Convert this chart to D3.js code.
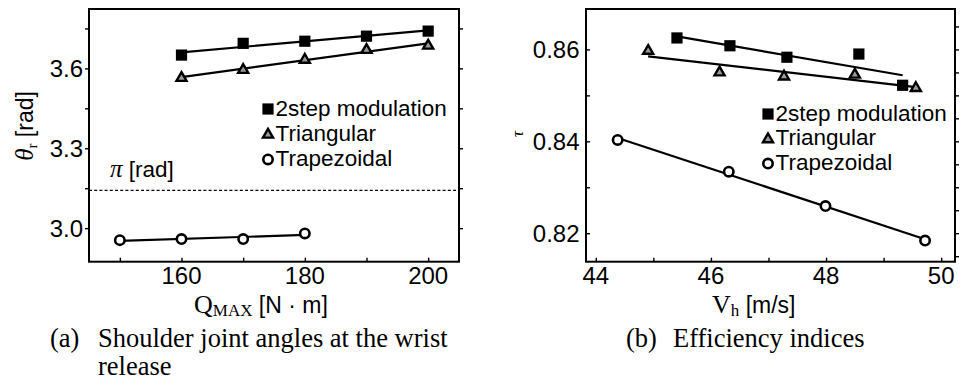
<!DOCTYPE html>
<html>
<head>
<meta charset="utf-8">
<script src="https://cdn.jsdelivr.net/npm/d3@7"></script>
<style>
  html, body { margin: 0; padding: 0; background: #fff; }
  svg { display: block; }
  .sans { font-family: "Liberation Sans", Arial, Helvetica, sans-serif; }
  .serif { font-family: "Liberation Serif", "Times New Roman", serif; }
</style>
</head>
<body>
<script>
// ---------- DATA ----------
// Panel (a): shoulder joint angle theta_r [rad] vs Q_MAX [N·m]
const qmax2step = [160, 170, 180, 190, 200];
const theta2step = [3.650, 3.694, 3.702, 3.721, 3.740];
const qmaxTri = [160, 170, 180, 190, 200];
const thetaTri = [3.566, 3.596, 3.634, 3.671, 3.687];
const qmaxTrap = [150, 160, 170, 180];
const thetaTrap = [2.955, 2.959, 2.959, 2.980];
const piValue = Math.PI;

// Panel (b): efficiency tau vs V_h [m/s]
const vh2step = [45.41, 46.33, 47.32, 48.57, 49.33];
const tau2step = [0.8625, 0.8608, 0.8583, 0.8590, 0.8522];
const vhTri = [44.91, 46.15, 47.27, 48.50, 49.56];
const tauTri = [0.8598, 0.8551, 0.8542, 0.8546, 0.8517];
const vhTrap = [44.38, 46.31, 47.99, 49.72];
const tauTrap = [0.8403, 0.8334, 0.8259, 0.8184];

// Tick values / labels
const aXTicks = [150, 160, 170, 180, 190, 200];
const aXLabels = [160, 180, 200];
const aYTicks = [3.0, 3.15, 3.3, 3.45, 3.6, 3.75];
const aYLabels = [3.0, 3.3, 3.6];
const bXTicks = [44, 45, 46, 47, 48, 49, 50];
const bXLabels = [44, 46, 48, 50];
const bYTicksL = [0.82, 0.83, 0.84, 0.85, 0.86];
const bYTicksR = [0.815, 0.82, 0.825, 0.83, 0.835, 0.84, 0.845, 0.85, 0.855, 0.86, 0.865];
const bYLabels = [0.82, 0.84, 0.86];

const legendNames = ["2step modulation", "Triangular", "Trapezoidal"];

// ---------- DRAW ----------
const W = 967, H = 385;
const svg = d3.select("body").append("svg").attr("width", W).attr("height", H);

const TRI_FILL = "#9a9a9a";

function fit(xs, ys) {
  const n = xs.length, mx = d3.mean(xs), my = d3.mean(ys);
  let sxy = 0, sxx = 0;
  for (let i = 0; i < n; i++) { sxy += (xs[i]-mx)*(ys[i]-my); sxx += (xs[i]-mx)**2; }
  const b = sxy / sxx, a = my - b*mx;
  const x0 = d3.min(xs), x1 = d3.max(xs);
  return [[x0, a + b*x0], [x1, a + b*x1]];
}

function drawMarker(g, type, cx, cy) {
  if (type === 0) {
    g.append("rect").attr("x", cx-5.6).attr("y", cy-5.6).attr("width", 11.2).attr("height", 11.2).attr("fill", "#000");
  } else if (type === 1) {
    g.append("path").attr("d", d3.symbol().type(d3.symbolTriangle).size(44)())
      .attr("transform", `translate(${cx},${cy+0.5})`)
      .attr("fill", TRI_FILL).attr("stroke", "#000").attr("stroke-width", 2.4).attr("stroke-linejoin", "miter");
  } else {
    g.append("circle").attr("cx", cx).attr("cy", cy).attr("r", 4.7)
      .attr("fill", "#fff").attr("stroke", "#000").attr("stroke-width", 2.6);
  }
}

function drawPanel(cfg) {
  const g = svg.append("g");
  const x = d3.scaleLinear().domain(cfg.xDomain).range([cfg.left, cfg.right]);
  const y = d3.scaleLinear().domain(cfg.yDomain).range([cfg.bottom, cfg.top]);

  const la = d3.axisLeft(y).tickValues(cfg.yTicksL).tickSize(cfg.leftTickSize).tickFormat("");
  const lag = g.append("g").attr("transform", `translate(${cfg.left},0)`).call(la);
  const ra = d3.axisRight(y).tickValues(cfg.yTicksR).tickSize(4).tickFormat("");
  const rag = g.append("g").attr("transform", `translate(${cfg.right},0)`).call(ra);
  const ba = d3.axisBottom(x).tickValues(cfg.xTicks).tickSize(-4).tickFormat("");
  const bag = g.append("g").attr("transform", `translate(0,${cfg.bottom})`).call(ba);
  [lag, rag, bag].forEach(a => {
    a.select(".domain").remove();
    a.selectAll("line").attr("stroke", "#000").attr("stroke-width", 1.4);
  });

  g.selectAll(null).data(cfg.yLabels).enter().append("text")
    .attr("class", "sans").attr("font-size", 24).attr("text-anchor", "end")
    .attr("x", cfg.yLabelX).attr("y", d => y(d)).attr("dy", "0.36em")
    .text(d => d3.format(cfg.yFmt)(d));
  g.selectAll(null).data(cfg.xLabels).enter().append("text")
    .attr("class", "sans").attr("font-size", 24).attr("text-anchor", "middle")
    .attr("x", d => x(d)).attr("y", 284)
    .text(d => d);

  g.append("rect").attr("x", cfg.left).attr("y", cfg.top)
    .attr("width", cfg.right - cfg.left).attr("height", cfg.bottom - cfg.top)
    .attr("fill", "none").attr("stroke", "#000").attr("stroke-width", 2);

  if (cfg.extra) cfg.extra(g, x, y);

  const line = d3.line().x(d => x(d[0])).y(d => y(d[1]));
  cfg.series.forEach(s => {
    g.append("path").attr("d", line(fit(s.xs, s.ys)))
      .attr("fill", "none").attr("stroke", "#000").attr("stroke-width", 2.2);
  });
  cfg.series.forEach((s, si) => {
    s.xs.forEach((xv, i) => drawMarker(g, si, x(xv), y(s.ys[i])));
  });

  legendNames.forEach((name, i) => {
    const by = cfg.legY + i * cfg.legDy;
    drawMarker(g, i, cfg.legX, by - 6.5);
    g.append("text").attr("class", "sans").attr("font-size", 22.5)
      .attr("x", cfg.legX + 7.5).attr("y", by).text(name);
  });
  return g;
}

// Panel (a)
drawPanel({
  left: 89, right: 459, top: 9, bottom: 261.7,
  xDomain: [145, 205], yDomain: [2.874, 3.823],
  xTicks: aXTicks, xLabels: aXLabels,
  yTicksL: aYTicks, yTicksR: aYTicks, yLabels: aYLabels, yFmt: ".1f",
  leftTickSize: 4, yLabelX: 83,
  series: [
    {xs: qmax2step, ys: theta2step},
    {xs: qmaxTri, ys: thetaTri},
    {xs: qmaxTrap, ys: thetaTrap}
  ],
  legX: 268, legY: 115.5, legDy: 25.2,
  extra: (g, x, y) => {
    g.append("line").attr("x1", x(145)).attr("x2", x(205))
      .attr("y1", y(piValue)).attr("y2", y(piValue))
      .attr("stroke", "#000").attr("stroke-width", 1.2).attr("stroke-dasharray", "3,2.2");
    const t = g.append("text").attr("x", 110).attr("y", 177);
    t.append("tspan").attr("class", "serif").attr("font-style", "italic").attr("font-size", 25).text("π");
    t.append("tspan").attr("class", "sans").attr("font-size", 22.5).text(" [rad]");
  }
});

// Panel (b)
drawPanel({
  left: 586, right: 955, top: 9, bottom: 261.7,
  xDomain: [43.83, 50.24], yDomain: [0.8138, 0.8688],
  xTicks: bXTicks, xLabels: bXLabels,
  yTicksL: bYTicksL, yTicksR: bYTicksR, yLabels: bYLabels, yFmt: ".2f",
  leftTickSize: -4, yLabelX: 579.5,
  series: [
    {xs: vh2step, ys: tau2step},
    {xs: vhTri, ys: tauTri},
    {xs: vhTrap, ys: tauTrap}
  ],
  legX: 768, legY: 120.5, legDy: 24.8
});

// Axis titles
{
  const t = svg.append("text").attr("transform", "translate(33,126) rotate(-90)").attr("text-anchor", "middle");
  t.append("tspan").attr("class", "serif").attr("font-style", "italic").attr("font-size", 25).text("θ");
  t.append("tspan").attr("class", "serif").attr("font-size", 15).attr("dy", 4).text("r");
  t.append("tspan").attr("class", "sans").attr("font-size", 23).attr("dy", -4).text(" [rad]");
}
{
  const t = svg.append("text").attr("x", 194).attr("y", 313);
  t.append("tspan").attr("class", "serif").attr("font-size", 26).text("Q");
  t.append("tspan").attr("class", "serif").attr("font-size", 17).attr("dy", 3).text("MAX");
  t.append("tspan").attr("class", "sans").attr("font-size", 23).attr("dy", -3).text(" [N · m]");
}
svg.append("text").attr("transform", "translate(523,134) rotate(-90)").attr("text-anchor", "middle")
  .attr("class", "serif").attr("font-style", "italic").attr("font-size", 17).text("τ");
{
  const t = svg.append("text").attr("x", 712).attr("y", 313);
  t.append("tspan").attr("class", "serif").attr("font-size", 26).text("V");
  t.append("tspan").attr("class", "serif").attr("font-size", 17).attr("dy", 3).text("h");
  t.append("tspan").attr("class", "sans").attr("font-size", 23).attr("dy", -3).text(" [m/s]");
}

function caption(x, y, s) {
  svg.append("text").attr("class", "serif").attr("font-size", 26.5).attr("x", x).attr("y", y).text(s);
}
caption(50, 347, "(a)");
caption(98, 347, "Shoulder joint angles at the wrist");
caption(98, 375, "release");
caption(626, 347, "(b)");
caption(673, 347, "Efficiency indices");
</script>
</body>
</html>
